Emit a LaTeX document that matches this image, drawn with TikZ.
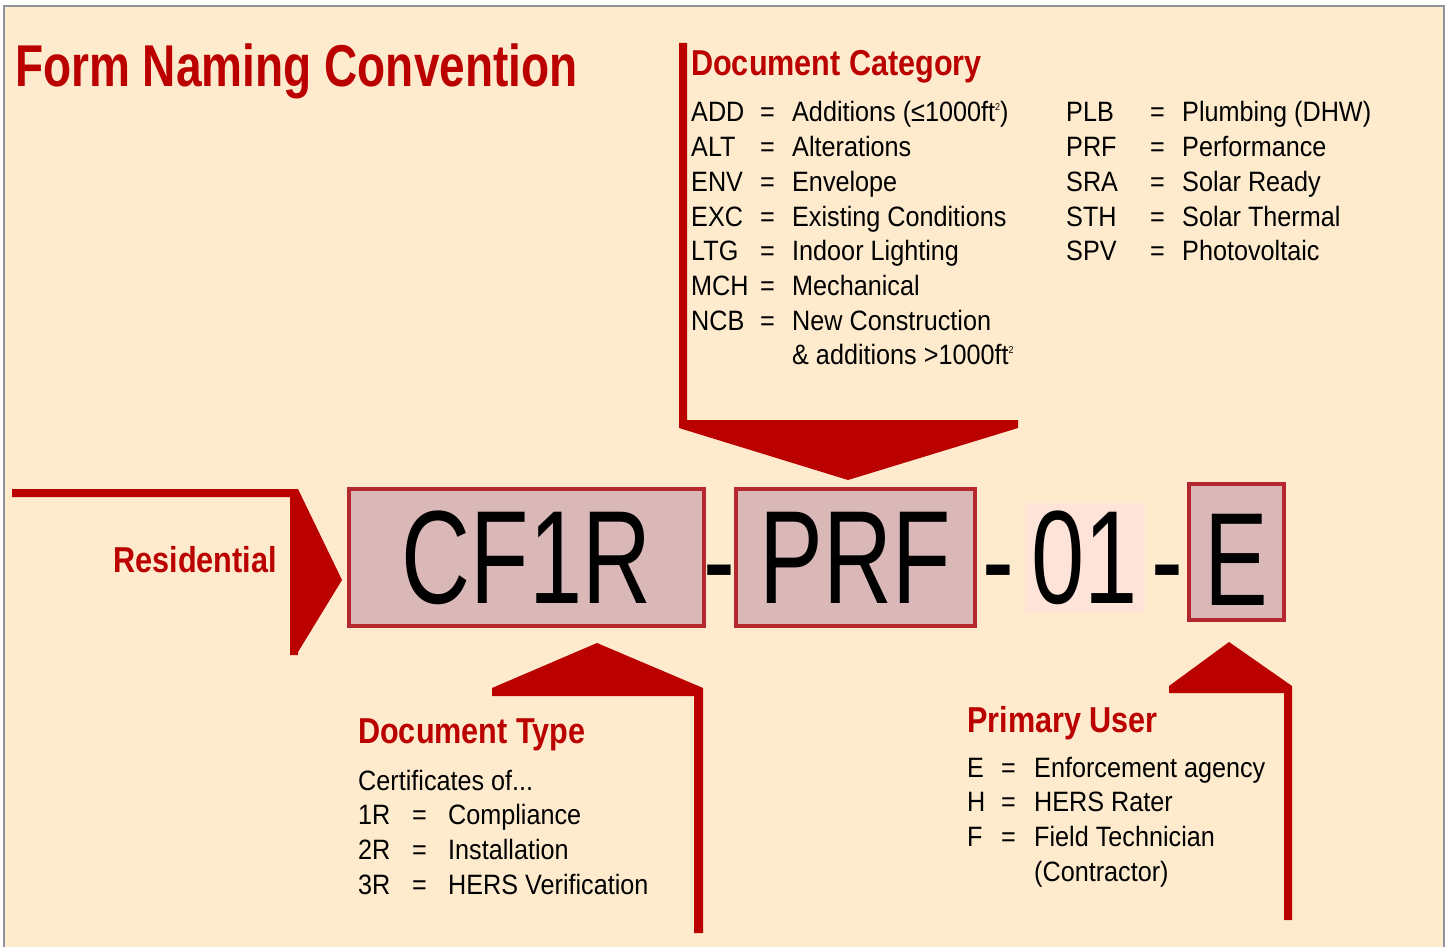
\documentclass[tikz,border=0pt]{standalone}
\usepackage{fontspec}
\setmainfont{Liberation Sans}
\newfontfamily\condfont[FakeStretch=0.9]{Liberation Sans}
\newfontfamily\headfont[FakeStretch=0.85]{Liberation Sans}
\newfontfamily\titlefont[FakeStretch=0.78]{Liberation Sans}
\newfontfamily\bigfont[FakeStretch=0.72]{Liberation Sans}
\newcommand{\sqft}{ft\raisebox{11pt}{\fontsize{10}{10}\selectfont 2}}
\definecolor{cream}{HTML}{FEEBCD}
\definecolor{darkred}{HTML}{BB0000}
\definecolor{boxfill}{HTML}{DBB8B8}
\definecolor{boxline}{HTML}{B5282E}
\definecolor{pale}{HTML}{FDE3D8}
\definecolor{framegray}{HTML}{8E959C}

\begin{document}
\begin{tikzpicture}[x=1pt,y=-1pt,head/.style={inner sep=0pt,anchor=base west,text=darkred,font=\headfont\bfseries\fontsize{36}{40}\selectfont},list/.style={inner sep=0pt,anchor=base west,font=\condfont\fontsize{28}{34.7}\selectfont},box/.style={draw=boxline,line width=4pt,fill=boxfill,inner sep=0pt,font=\bigfont\fontsize{132.7}{140}\selectfont},big/.style={inner sep=0pt,font=\bigfont\fontsize{132.7}{140}\selectfont},pointer/.style={fill=darkred}]
\useasboundingbox (0,0) rectangle (1451,947);
\fill[cream] (4,6) rectangle (1444,947);
\draw[framegray,line width=2pt] (4,947) -- (4,6) -- (1444,6) -- (1444,947);
\node[inner sep=0pt,anchor=base west,text=darkred,font=\titlefont\bfseries\fontsize{59}{62}\selectfont] (t) at (15,87) {Form Naming Convention};
\node[head] (dc) at (691,76) {Document Category};
\node[list] (cl) at (691,122) {\begin{tabular}[t]{@{}p{69pt}@{}p{32pt}@{}l@{}}
ADD&=&Additions (≤1000\sqft)\\
ALT&=&Alterations\\
ENV&=&Envelope\\
EXC&=&Existing Conditions\\
LTG&=&Indoor Lighting\\
MCH&=&Mechanical\\
NCB&=&New Construction\\
&&\& additions >1000\sqft
\end{tabular}};
\node[list] (cr) at (1066,122) {\begin{tabular}[t]{@{}p{84pt}@{}p{32pt}@{}l@{}}
PLB&=&Plumbing (DHW)\\
PRF&=&Performance\\
SRA&=&Solar Ready\\
STH&=&Solar Thermal\\
SPV&=&Photovoltaic
\end{tabular}};
\node[head,anchor=base east] (res) at (277,572) {Residential};
\node[box,minimum width=355pt,minimum height=137pt] (cf) at (526.5,557.5) {CF1R};
\node[box,minimum width=239pt,minimum height=137pt] (prf) at (855.5,557.5) {PRF};
\node[box,draw=none,fill=pale,minimum width=120pt,minimum height=110pt] (num) at (1085,558) {01};
\node[box,minimum width=95pt,minimum height=136pt] (e) at (1236.5,552) {};
\node[big,anchor=base] (el) at (1236.5,605) {E};
\node[big,anchor=base] (d1) at (719,605) {-};
\node[big,anchor=base] (d2) at (998,605) {-};
\node[big,anchor=base] (d3) at (1167,605) {-};
\node[head] (dt) at (358,743) {Document Type};
\node[list] (tl) at (358,790) {\begin{tabular}[t]{@{}p{54pt}@{}p{36pt}@{}l@{}}
\multicolumn{3}{@{}l@{}}{Certificates of...}\\
1R&=&Compliance\\
2R&=&Installation\\
3R&=&HERS Verification
\end{tabular}};
\node[head] (pu) at (967,732) {Primary User};
\node[list] (ul) at (967,777) {\begin{tabular}[t]{@{}p{34pt}@{}p{33pt}@{}l@{}}
E&=&Enforcement agency\\
H&=&HERS Rater\\
F&=&Field Technician\\
&&(Contractor)
\end{tabular}};
\fill[pointer] (12,489) -- (298,489) -- (342,580) -- (298,652) -- (298,655) -- (290,655) -- (290,497) -- (12,497) -- cycle;
\fill[pointer] (679,43) -- (687,43) -- (687,420) -- (1018,420) -- (1018,428) -- (848,480) -- (679,428) -- cycle;
\fill[pointer] (492,696) -- (492,688) -- (597,643) -- (703,688) -- (703,933) -- (694,933) -- (694,696) -- cycle;
\fill[pointer] (1169,693) -- (1169,686) -- (1229,642) -- (1292,686) -- (1292,920) -- (1284,920) -- (1284,693) -- cycle;
\end{tikzpicture}
\end{document}
